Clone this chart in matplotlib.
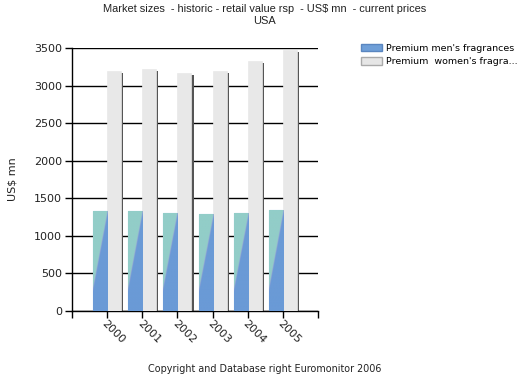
import numpy as np
import matplotlib
matplotlib.use("Agg")
import matplotlib.pyplot as plt
from matplotlib.patches import Patch
from matplotlib.colors import LinearSegmentedColormap

years = ["2000", "2001", "2002", "2003", "2004", "2005"]
mens = [1330, 1325, 1310, 1290, 1300, 1340]
womens = [3195, 3220, 3170, 3195, 3330, 3475]
series_names = ["Premium men's fragrances", "Premium  women's fragra..."]
yticks = [0, 500, 1000, 1500, 2000, 2500, 3000, 3500]

fig = plt.figure(figsize=(5.2, 3.82), dpi=100)
ax = fig.add_axes([72/520, 1-311/382, 246/520, 263/382])

x = np.arange(len(years))
w = 0.4

# shadows
ax.bar(x + 0.06, womens, width=w, align="edge", color="#555555",
       zorder=2, bottom=-30)

men_bars = ax.bar(x - w, mens, width=w, align="edge", color="#6a9ad6",
                  edgecolor="#7fa9dc", linewidth=0.8, zorder=3)
ax.bar(x, womens, width=w, align="edge", color="#e8e8e8",
       edgecolor="#e8e8e8", linewidth=0.5, zorder=3)

# gradient fill on men's bars
cmap = LinearSegmentedColormap.from_list(
    "g", [(0, "#6a9ad6"), (0.42, "#6a9ad6"), (0.5, "#9a9ad8"), (0.58, "#92cdc8"), (1, "#92cdc8")])
gx, gy = np.meshgrid(np.linspace(0, 1, 40), np.linspace(0, 1, 120))
for b in men_bars:
    x0, y0 = b.get_x(), b.get_y()
    bw, bh = b.get_width(), b.get_height()
    grad = np.clip((gy - (0.22 + 0.78 * gx)) * 3 + 0.5, 0, 1)
    im = ax.imshow(grad, extent=[x0, x0 + bw, y0, y0 + bh], origin="lower",
                   cmap=cmap, vmin=0, vmax=1, aspect="auto", zorder=3.5,
                   interpolation="bilinear")
    im.set_clip_path(b)

ax.set_xlim(-1, 6)
ax.set_ylim(0, 3500)
ax.set_yticks(yticks)
ax.set_yticklabels([str(v) for v in yticks], fontsize=8, color="#222222")
ax.yaxis.grid(True, color="black", linewidth=1.0, zorder=1)
ax.set_axisbelow(True)
ax.set_xticks(list(x) + [-1, 6])
ax.set_xticklabels(years + ["", ""], fontsize=8, color="#222222",
                   rotation=-45, ha="left", va="top", rotation_mode="anchor")
ax.tick_params(axis="x", length=5, width=1, direction="out", pad=0)
ax.tick_params(axis="y", length=5, width=1, direction="out", pad=2)
for s in ["top", "right"]:
    ax.spines[s].set_visible(False)
ax.spines["left"].set_linewidth(1)
ax.spines["bottom"].set_linewidth(1)
ax.set_ylabel("US$ mn", fontsize=8, color="#222222", labelpad=12)

fig.text(265/520, 1-9/382, "Market sizes  - historic - retail value rsp  - US$ mn  - current prices",
         ha="center", va="center", fontsize=7.9, family="Liberation Sans", color="#222222")
fig.text(265/520, 1-21/382, "USA", ha="center", va="center", fontsize=7.9,
         family="Liberation Sans", color="#222222")
fig.text(265/520, 1-369/382, "Copyright and Database right Euromonitor 2006",
         ha="center", va="center", fontsize=6.9, color="#222222")

handles = [Patch(facecolor="#6f9fd8", edgecolor="#5a86c0"),
           Patch(facecolor="#e6e6e6", edgecolor="#aaaaaa")]
fig.legend(handles, series_names, loc="upper left", bbox_to_anchor=(361/520, 1-44/382),
           frameon=False, fontsize=6.8, handlelength=2.2, handleheight=0.8,
           handletextpad=0.45, labelspacing=0.45, borderaxespad=0, borderpad=0)

fig.savefig("out.png", dpi=100)
